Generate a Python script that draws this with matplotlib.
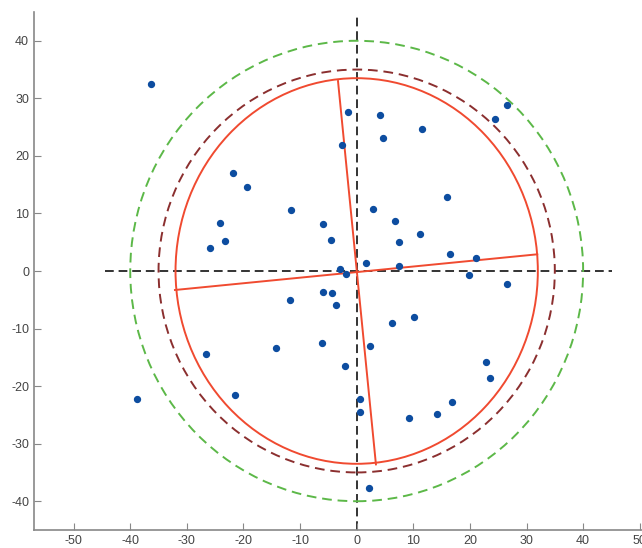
import numpy as np
import matplotlib.pyplot as plt
from matplotlib.patches import Circle, Ellipse

plt.rcParams['font.family'] = ['Liberation Sans', 'DejaVu Sans']
plt.rcParams['axes.unicode_minus'] = False

# sample points
px = [-36.3, -38.8, -21.9, -19.4, -24.2, -23.3, -25.9, -11.6, -5.9, -4.6,
      -2.9, -1.8, -1.6, -2.6, 4.1, 4.6, 11.5, 2.8, 6.7, 7.4,
      11.1, 1.6, 7.4, 26.6, 24.5, 16.0, 16.4, 21.0, 19.8, 26.6,
      22.8, 23.6, 16.9, 14.1, -6.0, -4.4, -3.7, -11.8, 6.2, 10.2,
      -14.3, -6.2, 2.3, -2.1, 0.5, 0.5, 9.3, 2.1, -21.5, -26.6]
py = [32.5, -22.3, 17.0, 14.6, 8.4, 5.2, 4.0, 10.6, 8.2, 5.3,
      0.4, -0.6, 27.7, 21.9, 27.1, 23.1, 24.7, 10.8, 8.7, 5.0,
      6.4, 1.4, 0.9, 28.9, 26.4, 12.9, 3.0, 2.3, -0.7, -2.3,
      -15.8, -18.6, -22.8, -24.9, -3.6, -3.9, -5.9, -5.0, -9.0, -8.0,
      -13.4, -12.5, -13.0, -16.5, -22.3, -24.5, -25.5, -37.7, -21.6, -14.5]

# circles and fitted ellipse
r_outer = 40
r_mid = 35
ell_w, ell_h = 64, 67

# red axes through the fitted ellipse
axis1_x = [-3.3, 3.4]
axis1_y = [33.0, -33.6]
axis2_x = [-32.1, 31.9]
axis2_y = [-3.3, 2.9]

xticks = [-50, -40, -30, -20, -10, 0, 10, 20, 30, 40, 50]
yticks = [-40, -30, -20, -10, 0, 10, 20, 30, 40]

fig = plt.figure(figsize=(6.42, 5.48), dpi=100)
ax = fig.add_axes([34 / 642, 18 / 548, 608 / 642, 518 / 548])

ax.plot([-44.4, 45.1], [0, 0], color='#333333', ls=(0, (4.5, 2.5)), lw=1.4, zorder=1)
ax.plot([0, 0], [-45, 44.5], color='#333333', ls=(0, (4.5, 2.5)), lw=1.4, zorder=1)

ax.add_patch(Circle((0, 0), r_outer, fill=False, ec='#5cb848', ls=(0, (5, 3)), lw=1.4))
ax.add_patch(Circle((0, 0), r_mid, fill=False, ec='#8b2f2f', ls=(0, (5, 3)), lw=1.4))
ax.add_patch(Ellipse((0, 0), ell_w, ell_h, fill=False, ec='#f04a30', lw=1.4))

ax.plot(axis1_x, axis1_y, color='#f04a30', lw=1.4)
ax.plot(axis2_x, axis2_y, color='#f04a30', lw=1.4)

ax.scatter(px, py, s=18, color='#0d4da0', zorder=3)

ax.set_xlim(-57, 50.4)
ax.set_ylim(-45, 45)
ax.set_xticks(xticks)
ax.set_yticks(yticks)

for s in ['top', 'right']:
    ax.spines[s].set_visible(False)
for s in ['left', 'bottom']:
    ax.spines[s].set_color('#888888')
    ax.spines[s].set_linewidth(1.2)
ax.tick_params(direction='in', length=5, color='#888888', labelcolor='#444444', labelsize=9)

fig.savefig('out.png', dpi=100)
